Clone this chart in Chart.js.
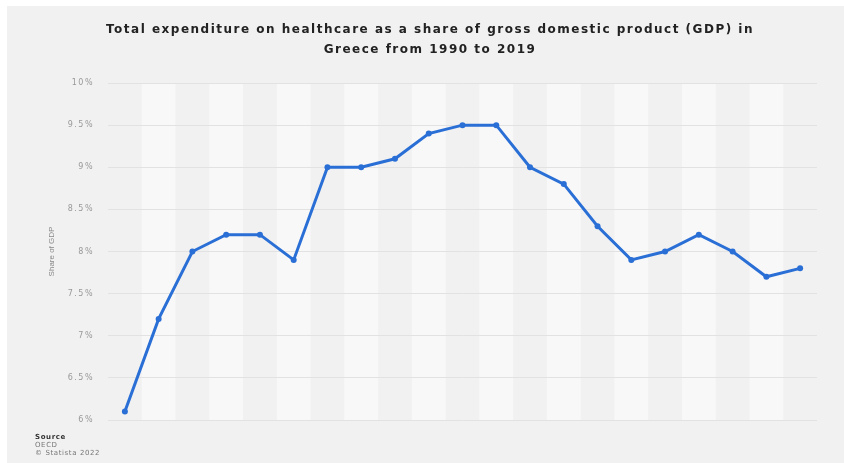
<!DOCTYPE html>
<html>
<head>
<meta charset="utf-8">
<script src="https://cdn.jsdelivr.net/npm/chart.js@4"></script>
<style>
  html, body { margin: 0; padding: 0; background: #ffffff; }
  #box { position: absolute; left: 7px; top: 6px; width: 837px; height: 457px; background: #f1f1f1; }
  #source { position: absolute; left: 28px; top: 427px; font-family: "DejaVu Sans", sans-serif; font-size: 7px; line-height: 8px; letter-spacing: 0.6px; color: #777; }
  #source b { color: #333; }
</style>
</head>
<body>
<div id="box">
  <canvas id="chart" width="837" height="457"></canvas>
  <div id="source"><b>Source</b><br>OECD<br>© Statista 2022</div>
</div>
<script>
const years = ['1990', '2000', '2001', '2002', '2003', '2004', '2005', '2006', '2007', '2008', '2009',
  '2010', '2011', '2012', '2013', '2014', '2015', '2016', '2017', '2018', '2019'];
const shareOfGdp = [6.1, 7.2, 8.0, 8.2, 8.2, 7.9, 9.0, 9.0, 9.1, 9.4, 9.5,
  9.5, 9.0, 8.8, 8.3, 7.9, 8.0, 8.2, 8.0, 7.7, 7.8];
const titleLines = ['Total expenditure on healthcare as a share of gross domestic product (GDP) in',
  'Greece from 1990 to 2019'];
const axisTitle = 'Share of GDP';

// alternating column bands + rotated axis title, then wider text for the rest
const bandPlugin = {
  id: 'bands',
  beforeDraw(chart) {
    const { ctx, chartArea, scales } = chart;
    ctx.save();
    ctx.fillStyle = '#f8f8f8';
    for (let i = 1; i < years.length; i += 2) {
      const x0 = scales.x.getPixelForValue(i - 0.5);
      const x1 = scales.x.getPixelForValue(i + 0.5);
      ctx.fillRect(x0, chartArea.top, x1 - x0, chartArea.bottom - chartArea.top);
    }
    ctx.letterSpacing = '0px';
    ctx.fillStyle = '#888';
    ctx.font = '8px Arial, "Liberation Sans", sans-serif';
    ctx.textAlign = 'center';
    ctx.textBaseline = 'middle';
    ctx.translate(45, (chartArea.top + chartArea.bottom) / 2);
    ctx.rotate(-Math.PI / 2);
    ctx.fillText(axisTitle, 0, 0);
    ctx.restore();
    ctx.letterSpacing = '1.5px';
  },
  afterDraw(chart) {
    chart.ctx.letterSpacing = '0px';
  }
};

new Chart(document.getElementById('chart').getContext('2d'), {
  type: 'line',
  data: {
    labels: years,
    datasets: [{
      label: 'Share of GDP',
      data: shareOfGdp,
      borderColor: '#2a6fd6',
      backgroundColor: '#2a6fd6',
      borderWidth: 3,
      pointRadius: 3,
      pointBorderWidth: 0,
      tension: 0
    }]
  },
  options: {
    responsive: false,
    animation: false,
    layout: { padding: { left: 36, right: 27, top: 0, bottom: 35 } },
    plugins: {
      legend: { display: false },
      tooltip: { enabled: false },
      title: {
        display: true,
        text: titleLines,
        color: '#222',
        font: { family: '"DejaVu Sans", sans-serif', size: 12, weight: 'bold', lineHeight: 20 / 12 },
        padding: { top: 14, bottom: 23 }
      }
    },
    scales: {
      x: {
        offset: true,
        grid: { display: false },
        border: { display: false },
        ticks: { display: false }
      },
      y: {
        min: 6,
        max: 10,
        border: { display: false },
        grid: { color: '#e2e2e2', drawTicks: false },
        afterFit: scale => { scale.width = 65; },
        ticks: {
          stepSize: 0.5,
          padding: 14,
          color: '#999',
          font: { family: '"DejaVu Sans", sans-serif', size: 8 },
          callback: v => v + '%'
        }
      }
    }
  },
  plugins: [bandPlugin]
});
</script>
</body>
</html>
